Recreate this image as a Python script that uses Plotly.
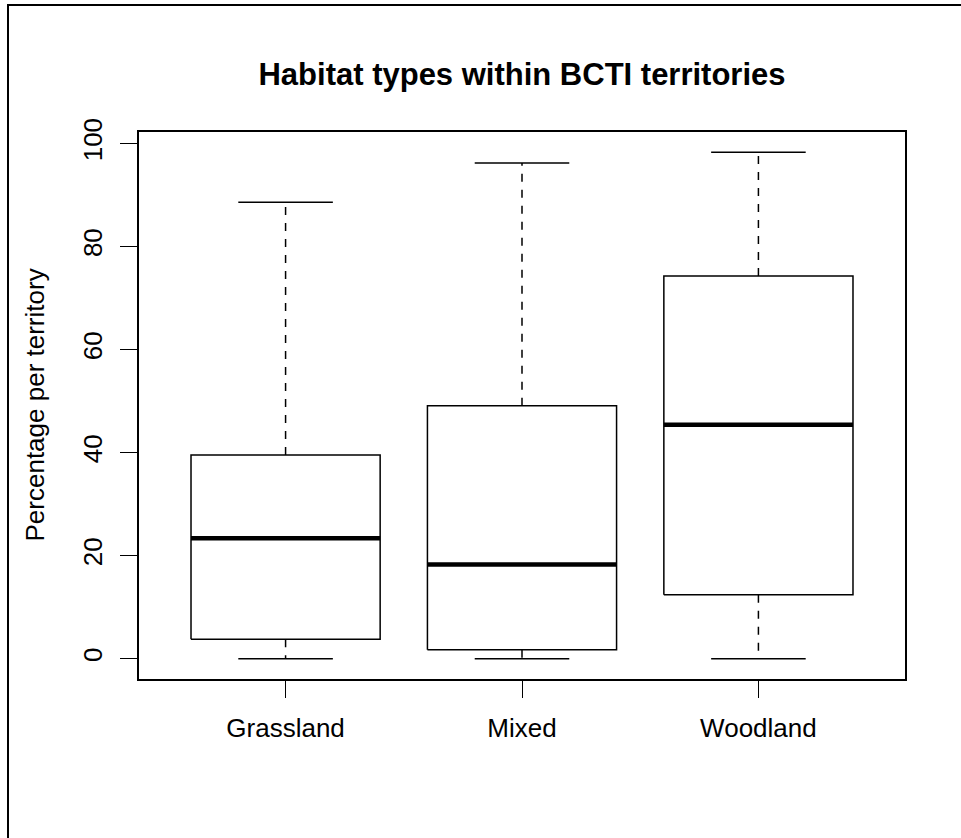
import plotly.graph_objects as go

# Habitat composition of BCTI territories (percent per territory)
categories = ["Grassland", "Mixed", "Woodland"]
whisker_low = [0.0, 0.0, 0.0]
q1 = [3.8, 1.75, 12.4]
median = [23.4, 18.3, 45.4]
q3 = [39.55, 49.1, 74.3]
whisker_high = [88.6, 96.2, 98.3]
y_ticks = [0, 20, 40, 60, 80, 100]

FONT = "Liberation Sans, Arial, Helvetica, sans-serif"
BOX_HALF = 0.4      # half box width in category units
CAP_HALF = 0.2      # half staple width

box_x, box_y = [], []
med_x, med_y = [], []
wh_x, wh_y = [], []
cap_x, cap_y = [], []
for i, _ in enumerate(categories):
    c = i + 1
    box_x += [c - BOX_HALF, c + BOX_HALF, c + BOX_HALF, c - BOX_HALF, c - BOX_HALF, None]
    box_y += [q1[i], q1[i], q3[i], q3[i], q1[i], None]
    med_x += [c - BOX_HALF, c + BOX_HALF, None]
    med_y += [median[i], median[i], None]
    wh_x += [c, c, None, c, c, None]
    wh_y += [q3[i], whisker_high[i], None, q1[i], whisker_low[i], None]
    cap_x += [c - CAP_HALF, c + CAP_HALF, None, c - CAP_HALF, c + CAP_HALF, None]
    cap_y += [whisker_high[i], whisker_high[i], None, whisker_low[i], whisker_low[i], None]

fig = go.Figure()
fig.add_trace(go.Scatter(x=wh_x, y=wh_y, mode="lines",
                         line=dict(color="black", width=1.5, dash="8px,8px"),
                         hoverinfo="skip", showlegend=False))
fig.add_trace(go.Scatter(x=cap_x, y=cap_y, mode="lines",
                         line=dict(color="black", width=1.5),
                         hoverinfo="skip", showlegend=False))
fig.add_trace(go.Scatter(x=box_x, y=box_y, mode="lines",
                         line=dict(color="black", width=1.5),
                         hoverinfo="skip", showlegend=False))
fig.add_trace(go.Scatter(x=med_x, y=med_y, mode="lines",
                         line=dict(color="black", width=4.5),
                         hoverinfo="skip", showlegend=False))

# axis limits padded 4% beyond the data range
lo = min(whisker_low)
hi = max(whisker_high)
pad = 0.04 * (hi - lo)
n = len(categories)
xpad = 0.04 * n

fig.update_xaxes(
    range=[0.5 - xpad, n + 0.5 + xpad],
    tickmode="array", tickvals=list(range(1, n + 1)), ticktext=categories,
    ticks="outside", ticklen=17, tickwidth=1.3, tickcolor="black",
    ticklabelstandoff=8,
    showline=True, linecolor="black", linewidth=1.8, mirror=True,
    showgrid=False, zeroline=False,
    tickfont=dict(family=FONT, size=26, color="black"),
)
fig.update_yaxes(
    range=[lo - pad, hi + pad],
    tickmode="array", tickvals=y_ticks, ticktext=[str(v) for v in y_ticks],
    tickangle=-90,
    ticks="outside", ticklen=17, tickwidth=1.3, tickcolor="black",
    ticklabelstandoff=8,
    showline=True, linecolor="black", linewidth=1.8, mirror=True,
    showgrid=False, zeroline=False,
    tickfont=dict(family=FONT, size=26, color="black"),
)

fig.add_annotation(
    text="Percentage per territory", textangle=-90,
    xref="paper", yref="paper", x=(34 - 139) / 766, y=0.5,
    xanchor="center", yanchor="middle", showarrow=False,
    font=dict(family=FONT, size=26, color="black"),
)

# frame around the page (top and left edges)
fig.add_shape(type="rect", xref="paper", yref="paper",
              x0=(8 - 139) / 766, x1=1.5, y0=-1.0, y1=(679 - 5) / 547,
              line=dict(color="black", width=2), fillcolor="rgba(0,0,0,0)", layer="above")

fig.update_layout(
    width=961, height=838,
    margin=dict(l=139, r=56, t=132, b=159),
    paper_bgcolor="white", plot_bgcolor="white",
    title=dict(text="<b>Habitat types within BCTI territories</b>",
               x=0.5, xref="paper", y=1 - 74 / 838, yref="container",
               xanchor="center", yanchor="middle",
               font=dict(family=FONT, size=31, color="black")),
    showlegend=False,
)

fig.write_html("out.html")
